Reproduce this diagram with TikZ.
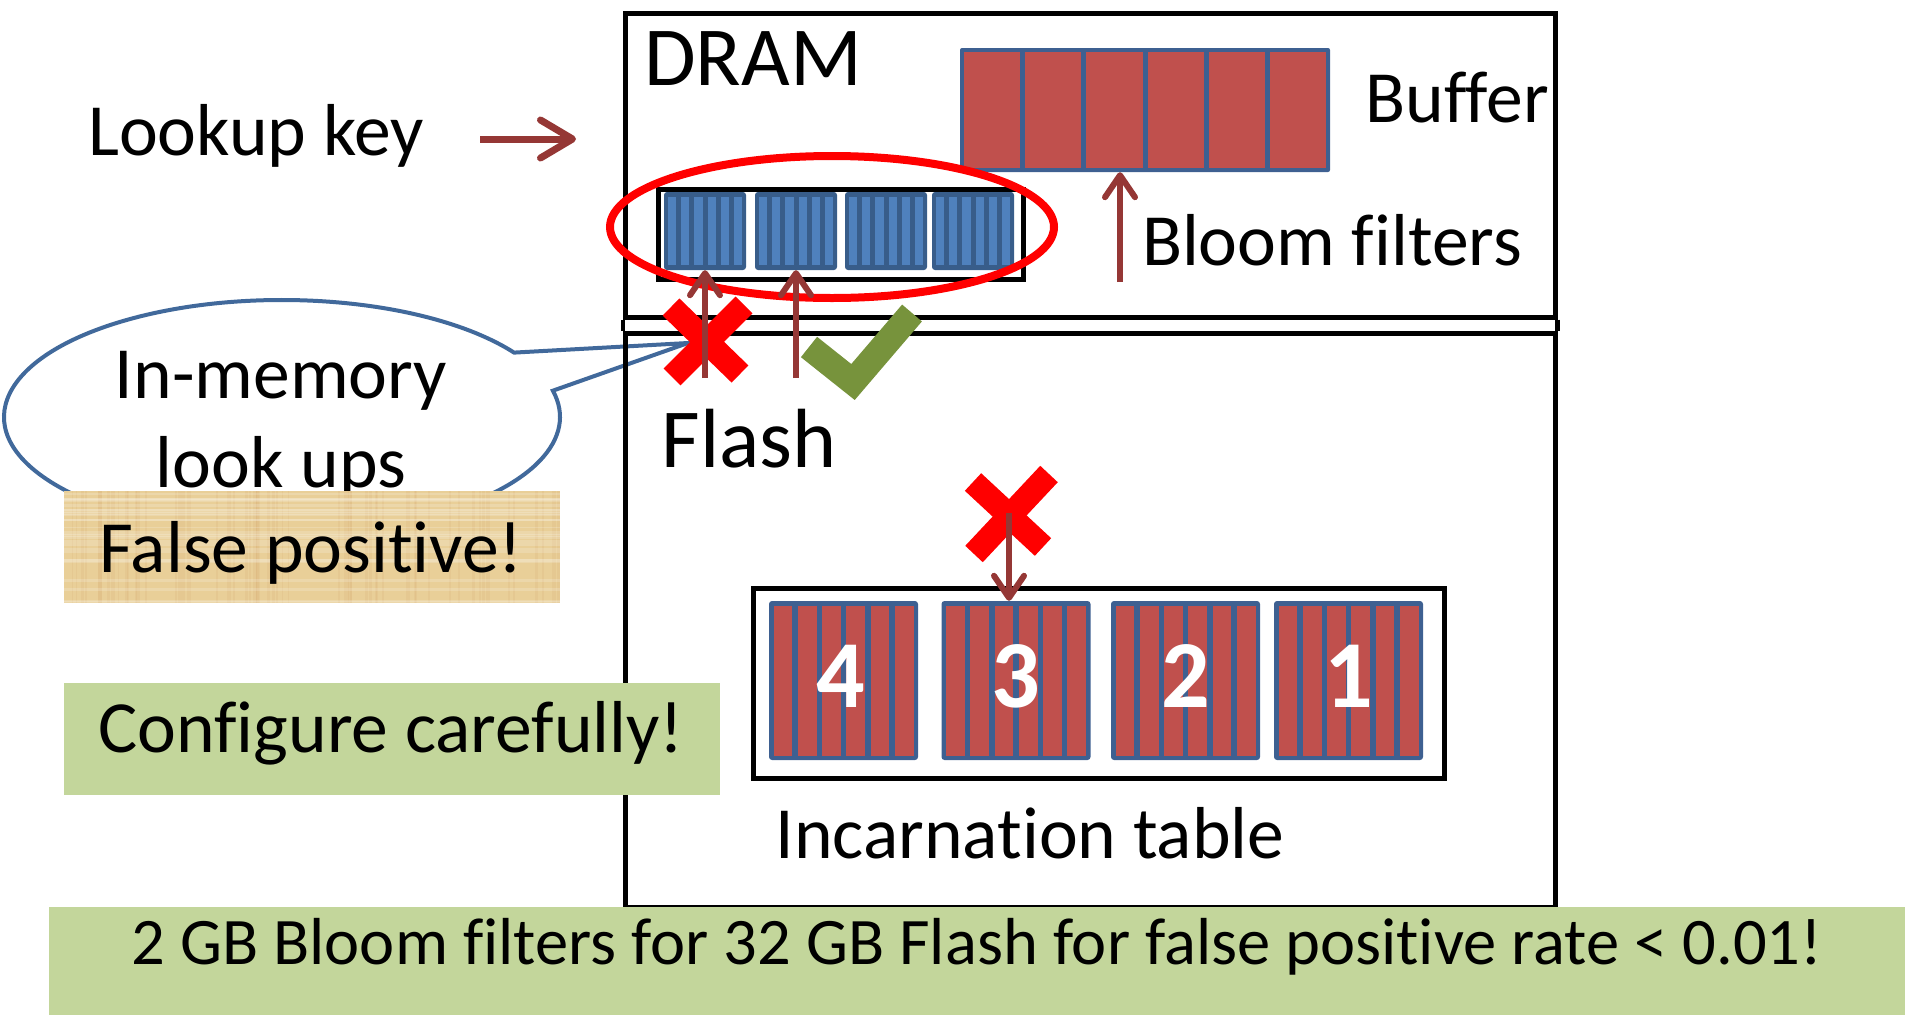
\documentclass[tikz,border=0pt]{standalone}
\usepackage{fontspec}
\setmainfont{Carlito}[Ligatures=NoCommon, RawFeature={-liga;-clig;-calt;-dlig}]
\usetikzlibrary{arrows.meta,calc}

\definecolor{arrowred}{RGB}{149,55,53}
\definecolor{cellred}{RGB}{192,80,77}
\definecolor{cellblue}{RGB}{62,96,145}
\definecolor{bfdark}{RGB}{56,93,138}
\definecolor{bflight}{RGB}{79,129,189}
\definecolor{tickgreen}{RGB}{119,147,60}
\definecolor{calloutblue}{RGB}{65,105,155}
\definecolor{notegreen}{RGB}{195,214,155}
\definecolor{papyrus}{RGB}{233,207,152}
\definecolor{crossred}{RGB}{255,0,0}

\begin{document}
\begin{tikzpicture}[x=1pt,y=-1pt,
  frame/.style={draw=black, line width=4.5, inner sep=0, anchor=north west},
  lbl/.style={inner sep=0, anchor=base, text=black},
  f28/.style={font=\fontsize{73.6}{80}\selectfont},
  f32/.style={font=\fontsize{84}{90}\selectfont},
  f24/.style={font=\fontsize{66.5}{72}\selectfont},
  numlbl/.style={inner sep=0, anchor=base, text=white, font=\bfseries\fontsize{96}{100}\selectfont},
  notebox/.style={draw=none, inner sep=0, anchor=north west},
  bfblock/.style={draw=none, fill=bfdark, rounded corners=3, inner sep=0,
    minimum width=82, minimum height=78,
    path picture={\foreach \i in {0,...,5}
      \fill[bflight, sharp corners] ($(path picture bounding box.north west)+(4+\i*13.17,5)$) rectangle ++(8.17,68);}},
  itblock/.style={draw=none, fill=cellblue, rounded corners=3, inner sep=0,
    minimum width=149, minimum height=159,
    path picture={\foreach \i in {0,...,5}
      \fill[cellred, sharp corners] ($(path picture bounding box.north west)+(4.5+\i*24.25,4.5)$) rectangle ++(18.75,150);}},
  bufblock/.style={draw=none, fill=cellblue, rounded corners=2, inner sep=0,
    minimum width=370, minimum height=124,
    path picture={\foreach \i in {0,...,5}
      \fill[cellred, sharp corners] ($(path picture bounding box.north west)+(4+\i*61.17,4)$) rectangle ++(56.17,116);}},
  arr/.style={draw=arrowred, line width=6, -{Straight Barb[length=22pt,width=30pt,round]}},
  keyarr/.style={draw=arrowred, line width=7, -{Straight Barb[length=32pt,width=38pt,round]}},
  xmark/.style={draw=crossred, line width=24, line cap=butt},
  tick/.style={draw=tickgreen, line width=26, line cap=butt, line join=miter},
  callout/.style={draw=calloutblue, fill=white, line width=4, line join=miter}
]
\useasboundingbox (0,0) rectangle (1905,1015);

% speech bubble with its pointer
\coordinate (cc) at (282,417);
\coordinate (ptip) at (688,343);
\draw[callout] ($(cc)+(-13:278 and 117)$) -- (ptip) -- ($(cc)+(-33.4:278 and 117)$)
  arc[start angle=-33.4, end angle=-373, x radius=278, y radius=117] -- cycle;
\node[lbl,f28] (inmem) at (281,398) {In-memory};
\node[lbl,f28] (lookups) at (281,487) {look ups};

% memory and flash frames, joined by a double rule
\node[frame, minimum width=930, minimum height=304] (dram) at (623,11) {};
\node[frame, minimum width=930, minimum height=574] (flash) at (623,331) {};
\draw[line width=4.5] (dram.south west) -- (flash.north west);
\draw[line width=4.5] (dram.south east) -- (flash.north east);

% buffer
\node[bufblock] (buf) at (1145,110) {};

% bloom filters
\node[frame, minimum width=365, minimum height=90] (bfframe) at (656,187) {};
\node[bfblock] (bf1) at (705,231) {};
\node[bfblock] (bf2) at (796,231) {};
\node[bfblock] (bf3) at (886,231) {};
\node[bfblock] (bf4) at (973,231) {};

% incarnation table
\node[frame, minimum width=691, minimum height=190] (itframe) at (751,586) {};
\node[itblock] (it4) at (843.5,680.5) {};
\node[itblock] (it3) at (1016,680.5) {};
\node[itblock] (it2) at (1185.5,680.5) {};
\node[itblock] (it1) at (1348.5,680.5) {};
\node[numlbl] (n4) at ($(it4.center)+(-3,27)$) {4};
\node[numlbl] (n3) at ($(it3.center)+(0,27)$) {3};
\node[numlbl] (n2) at ($(it2.center)+(0,27)$) {2};
\node[numlbl] (n1) at ($(it1.center)+(0,27)$) {1};

% highlighted bloom filters
\draw[crossred, line width=8] (832,227) ellipse [x radius=222, y radius=71];

% outcome marks
\coordinate (xa) at (706,341);
\draw[xmark] ($(xa)+(-35,-34)$) -- ($(xa)+(34,33)$);
\draw[xmark] ($(xa)+(38,-36)$) -- ($(xa)+(-34,36)$);
\coordinate (xb) at (1009,513);
\draw[xmark] ($(xb)+(-36,-31)$) -- ($(xb)+(34,34)$);
\draw[xmark] ($(xb)+(40,-39)$) -- ($(xb)+(-35,41)$);
\coordinate (ck1) at (809,347);
\coordinate (ck2) at (853,382);
\coordinate (ck3) at (912,313);
\draw[tick] (ck1) -- (ck2) -- (ck3);

% lookups
\coordinate (lk0) at (480,139);
\coordinate (lk1) at (576,139);
\draw[keyarr] (lk0) -- (lk1);
\coordinate (a1) at (705,378);
\coordinate (a2) at (796,378);
\coordinate (a3) at (1120,282);
\coordinate (a4) at (1009,513);
\draw[arr] (a1) -- (bf1.south);
\draw[arr] (a2) -- (bf2.south);
\draw[arr] (a3) -- (a3 |- buf.south);
\draw[arr] (a4) -- (a4 |- it3.north);

% labels
\node[lbl,f28] (lookupkey) at (256,155) {Lookup key};
\node[lbl,f32] (dramlbl) at (753,85) {DRAM};
\node[lbl,f32] (flashlbl) at (749,467) {Flash};
\node[lbl,f28] (buflbl) at (1457,122) {Buffer};
\node[lbl,f28] (bflbl) at (1332,265) {Bloom filters};
\node[lbl,f28] (itlbl) at (1030,858) {Incarnation table};

% note: false positive
\node[notebox, fill=papyrus, minimum width=496, minimum height=112] (fpbox) at (64,491) {};
\begin{scope}
  \clip (fpbox.north west) rectangle (fpbox.south east);
  \pgfmathsetseed{42}
  \foreach \k in {1,...,60} {
    \pgfmathsetmacro{\gx}{64+rnd*496}
    \pgfmathsetmacro{\gw}{1+rnd*3}
    \fill[brown, opacity=0.08] (\gx,491) rectangle ++(\gw,112);
  }
  \foreach \k in {1,...,30} {
    \pgfmathsetmacro{\gy}{491+rnd*112}
    \pgfmathsetmacro{\gh}{1+rnd*2.5}
    \fill[white, opacity=0.18] (64,\gy) rectangle ++(496,\gh);
  }
\end{scope}
\node[lbl,f28] (fplbl) at (311,572) {False positive!};

% note: configuration
\node[notebox, fill=notegreen, minimum width=656, minimum height=112] (cfgbox) at (64,683) {};
\node[lbl,f28] (cfglbl) at (391,752) {Configure carefully!};

% note: sizing
\node[notebox, fill=notegreen, minimum width=1856, minimum height=108] (sizebox) at (49,907) {};
\node[lbl,f24] (sizelbl) at (977,964) {2 GB Bloom filters for 32 GB Flash for false positive rate < 0.01!};
\end{tikzpicture}
\end{document}
